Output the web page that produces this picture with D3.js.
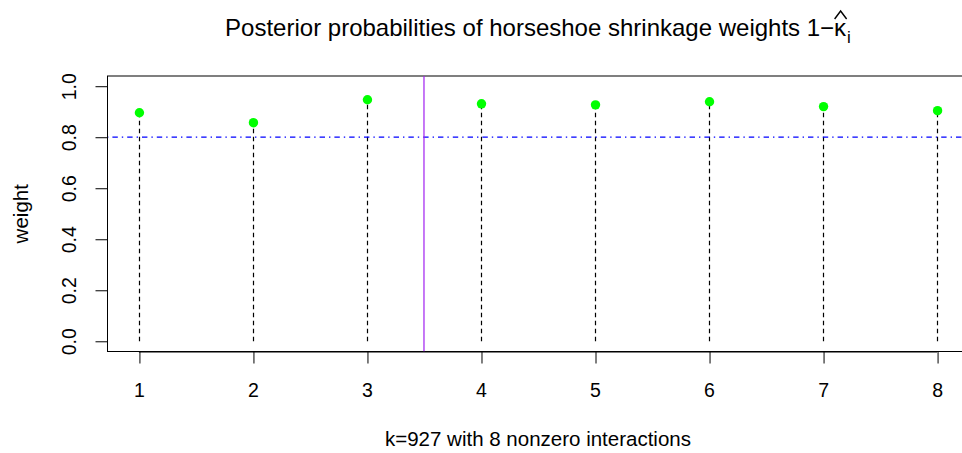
<!DOCTYPE html>
<html><head><meta charset="utf-8">
<script src="https://cdn.jsdelivr.net/npm/d3@7"></script>
<style>body{margin:0;background:#fff}svg{display:block;font-family:"Liberation Sans",Arial,sans-serif}</style>
</head><body>
<svg id="c" width="962" height="453"></svg>
<script>
const categories = [1,2,3,4,5,6,7,8];
const weights = [0.896,0.857,0.947,0.931,0.927,0.939,0.920,0.904];
const yTicks = [0.0,0.2,0.4,0.6,0.8,1.0];
const threshold = 0.8;
const splitAt = 3.5;
const titleText = "Posterior probabilities of horseshoe shrinkage weights 1\u2212";
const xLabel = "k=927 with 8 nonzero interactions";
const yLabel = "weight";

const FONT = "Liberation Sans, Arial, sans-serif";
const svg = d3.select("#c");
const x = d3.scaleLinear().domain([0.72, 8.28]).range([107, 969]);
const y = d3.scaleLinear().domain([-0.04, 1.04]).range([351.5, 76]);

// box
svg.append("rect").attr("x",107.5).attr("y",y.range()[1]).attr("width",969-107).attr("height",y.range()[0]-y.range()[1])
  .attr("fill","none").attr("stroke","#000").attr("stroke-width",1);

// stems
svg.append("g").selectAll("line").data(categories).join("line")
  .attr("x1",d=>Math.round(x(d))+0.5).attr("x2",d=>Math.round(x(d))+0.5)
  .attr("y1",y(0)).attr("y2",(d,i)=>y(weights[i]))
  .attr("stroke","#000").attr("stroke-width",1.2).attr("stroke-dasharray","4.5,3.5");

// threshold line
svg.append("line").attr("x1",x.range()[0]).attr("x2",x.range()[1])
  .attr("y1",y(threshold)).attr("y2",y(threshold))
  .attr("stroke","#0000ff").attr("stroke-width",1.2).attr("stroke-dasharray","1.4,4,5.4,4");

// split line
svg.append("line").attr("x1",x(splitAt)).attr("x2",x(splitAt))
  .attr("y1",y.range()[1]).attr("y2",y.range()[0])
  .attr("stroke","#a020f0").attr("stroke-width",1.2);

// points
svg.append("g").selectAll("circle").data(categories).join("circle")
  .attr("cx",d=>x(d)+0.5).attr("cy",(d,i)=>y(weights[i]))
  .attr("r",4.7).attr("fill","#00ff00");

// axes
const xAxis = d3.axisBottom(x).tickValues(categories).tickSize(12).tickPadding(0).tickFormat(d3.format("d"));
const gx = svg.append("g").attr("transform",`translate(0,${y.range()[0]})`).call(xAxis);
gx.select(".domain").attr("d",`M${x(1)},0.5H${x(8)}`);
gx.selectAll(".tick line").attr("transform","translate(0.5,0)");
gx.selectAll(".tick text").attr("font-size",19.5).attr("font-family",FONT).attr("fill","#000")
  .attr("dy",0).attr("y",45);

const yAxis = d3.axisLeft(y).tickValues(yTicks).tickSize(12).tickFormat(d3.format(".1f"));
const gy = svg.append("g").attr("transform","translate(107.5,0)").call(yAxis);
gy.select(".domain").attr("d",`M0,${y(0)}V${y(1)}`);
gy.selectAll(".tick text").attr("font-size",19.5).attr("font-family",FONT).attr("fill","#000")
  .attr("text-anchor","middle").attr("dy",0).attr("x",0)
  .attr("transform","translate(-31.5,0) rotate(-90)");

// labels
svg.append("text").attr("x",(x(1)+x(8))/2).attr("y",446).attr("text-anchor","middle")
  .attr("font-size",20.5).text(xLabel);
svg.append("text").attr("transform",`translate(27.5,${y(0.5)}) rotate(-90)`)
  .attr("text-anchor","middle").attr("font-size",20.5).text(yLabel);

// title (centred over the plot region)
const TB = 36;
const t = svg.append("text").attr("x",(x.range()[0]+x.range()[1])/2).attr("y",TB)
  .attr("text-anchor","middle").attr("font-size",24);
t.append("tspan").text(titleText);
t.append("tspan").attr("id","kap").text("\u03ba");
t.append("tspan").attr("font-size",17).attr("dy",7).attr("dx",1).text("i");
// hat over kappa
const bb = document.getElementById("kap").getBBox();
const cx = bb.x + bb.width/2;
svg.append("path").attr("d",`M${cx-6},${TB-17}L${cx},${TB-25}L${cx+6},${TB-17}`)
  .attr("fill","none").attr("stroke","#000").attr("stroke-width",1.4);
</script>
</body></html>
